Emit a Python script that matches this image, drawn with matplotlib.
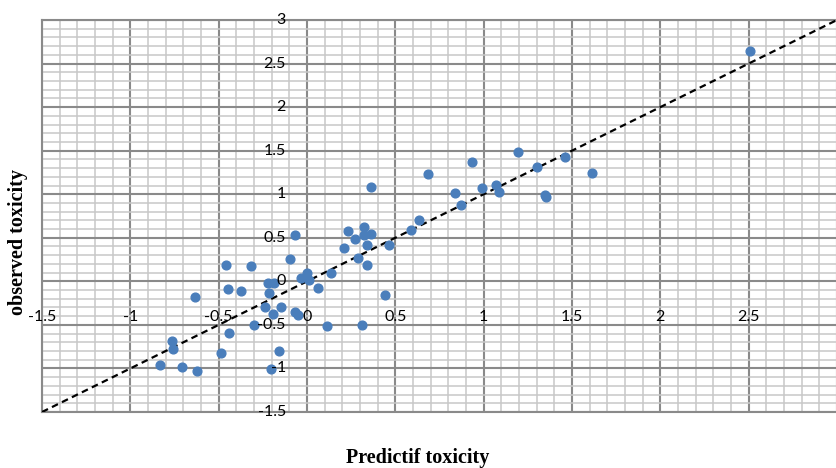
import matplotlib
matplotlib.use("Agg")
import matplotlib.pyplot as plt
import numpy as np

predicted = [2.508, -0.765, -0.76, -0.834, -0.707, -0.62, -0.633, -0.489, -0.442, -0.46,
             -0.448, -0.375, -0.315, -0.302, -0.237, -0.218, -0.185, -0.214, -0.19, -0.147,
             -0.156, -0.203, -0.095, -0.069, -0.067, -0.052, -0.035, 0.001, 0.013, 0.062,
             0.114, 0.136, 0.31, 0.211, 0.231, 0.274, 0.286, 0.323, 0.321, 0.36,
             0.342, 0.339, 0.36, 0.441, 0.466, 0.591, 0.632, 0.685, 0.836, 0.87,
             0.934, 0.991, 1.072, 1.086, 1.194, 1.303, 1.347, 1.352, 1.461, 1.616]
observed = [2.64, -0.69, -0.78, -0.96, -0.98, -1.035, -0.175, -0.82, -0.595, 0.19,
            -0.085, -0.115, 0.18, -0.505, -0.295, -0.017, -0.017, -0.134, -0.373, -0.295,
            -0.805, -1.01, 0.258, 0.53, -0.35, -0.382, 0.037, 0.09, 0.01, -0.077,
            -0.516, 0.09, -0.502, 0.382, 0.573, 0.487, 0.27, 0.627, 0.53, 0.545,
            0.422, 0.193, 1.087, -0.155, 0.421, 0.594, 0.708, 1.236, 1.015, 0.881,
            1.367, 1.072, 1.103, 1.023, 1.488, 1.316, 0.992, 0.963, 1.424, 1.241]

x_ticks = [-1.5, -1, -0.5, 0, 0.5, 1, 1.5, 2, 2.5]
y_ticks = [-1.5, -1, -0.5, 0, 0.5, 1, 1.5, 2, 2.5, 3]
x_labels = ["-1.5", "-1", "-0.5", "0", "0.5", "1", "1.5", "2", "2.5"]
y_labels = ["-1.5", "-1", "-0.5", "0", "0.5", "1", "1.5", "2", "2.5", "3"]
ident = [-1.5, 3.0]

W, H = 837, 468
fig = plt.figure(figsize=(W / 100, H / 100), dpi=100)
ax = fig.add_axes([42 / W, 56 / H, 795 / W, 392 / H])
xmax = -1.5 + 795 / 178.4
ax.set_xlim(-1.5, xmax)
ax.set_ylim(-1.5, 3)

major = "#8a8a8a"
minor = "#c8c8c8"
ax.set_xticks(np.arange(-1.5, 3.01, 0.5))
ax.set_yticks(np.arange(-1.5, 3.01, 0.5))
ax.set_xticks(np.arange(-1.5, 3.01, 0.1), minor=True)
ax.set_yticks(np.arange(-1.5, 3.01, 0.1), minor=True)
ax.grid(which="minor", color=minor, lw=1.1, zorder=0)
ax.grid(which="major", color=major, lw=1.5, zorder=0)
ax.tick_params(which="both", length=0, labelbottom=False, labelleft=False)
ax.set_axisbelow(True)
for s in ax.spines.values():
    s.set_color(major)
    s.set_linewidth(1.5)
ax.spines["right"].set_visible(False)

ax.plot(ident, ident, color="black", lw=1.6, linestyle=(0, (3, 2)), zorder=3)
ax.plot(predicted, observed, "o", ms=6.3, color="#4a7ebb", mec="#4a7ebb", zorder=4)

fnt = dict(family="Lato", fontsize=11.5, color="black")
for v, t in zip(x_ticks, x_labels):
    ax.text(v, -0.41, t, ha="center", va="center", **fnt, zorder=5)
for v, t in zip(y_ticks, y_labels):
    ax.text(-0.12, v, t, ha="right", va="center", **fnt, zorder=5)

fig.text(418 / W, 1 - 458 / H, "Predictif toxicity", ha="center", va="center",
         family="Liberation Serif", fontweight="bold", fontsize=14.5)
fig.text(18 / W, 1 - 242 / H, "observed toxicity", ha="center", va="center",
         rotation=90, family="Liberation Serif", fontweight="bold", fontsize=14.5)

fig.savefig("out.png", dpi=100)
